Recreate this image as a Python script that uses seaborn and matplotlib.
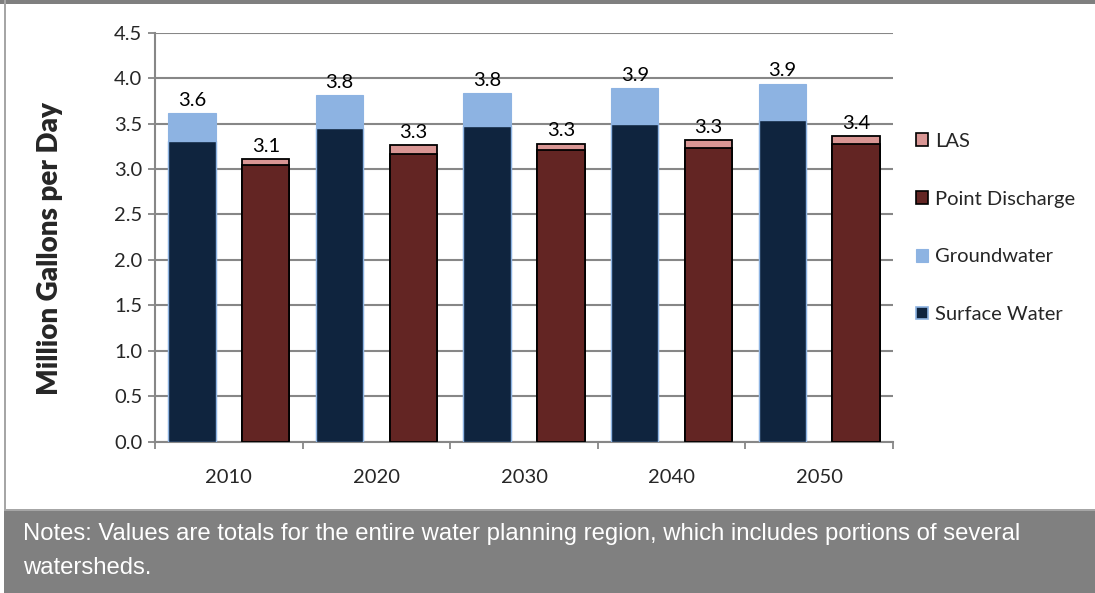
import matplotlib
matplotlib.use("Agg")
import matplotlib.pyplot as plt
from matplotlib.patches import Patch, Rectangle
import numpy as np
import pandas as pd
import seaborn as sns

# Regional water supply vs. discharge, million gallons per day
years = ["2010", "2020", "2030", "2040", "2050"]
surface_water = [3.31, 3.45, 3.47, 3.50, 3.54]
groundwater = [0.31, 0.36, 0.37, 0.39, 0.40]
point_discharge = [3.04, 3.17, 3.21, 3.23, 3.28]
las = [0.07, 0.09, 0.07, 0.09, 0.08]

supply_total = [s + g for s, g in zip(surface_water, groundwater)]
discharge_total = [p + l for p, l in zip(point_discharge, las)]

C_SW = "#0F243E"
C_GW = "#8DB3E2"
C_PD = "#632523"
C_LAS = "#D99694"
GRID = "#878787"
FS = 14.5

sns.set_theme(style="white")
plt.rcParams["font.family"] = ["Lato", "DejaVu Sans"]

tot = pd.DataFrame({
    "year": years * 2,
    "side": ["supply"] * 5 + ["discharge"] * 5,
    "value": supply_total + discharge_total,
})
base = pd.DataFrame({
    "year": years * 2,
    "side": ["supply"] * 5 + ["discharge"] * 5,
    "value": surface_water + point_discharge,
})

fig = plt.figure(figsize=(10.95, 5.93), dpi=100)
ax = fig.add_axes([155 / 1095, 1 - 441.7 / 593, (893 - 155) / 1095, (441.7 - 32.7) / 593])

order = ["supply", "discharge"]
# upper segments drawn as full-height bars, lower segments layered on top
sns.barplot(data=tot, x="year", y="value", hue="side", hue_order=order,
            palette=[C_GW, C_LAS], width=1.0, gap=0.36, dodge=True,
            errorbar=None, legend=False, ax=ax, zorder=2, saturation=1)
sns.barplot(data=base, x="year", y="value", hue="side", hue_order=order,
            palette=[C_SW, C_PD], width=1.0, gap=0.36, dodge=True,
            errorbar=None, legend=False, ax=ax, zorder=3, saturation=1)

conts = ax.containers
for bar in conts[0]:
    bar.set_edgecolor(C_GW); bar.set_linewidth(0.8)
for bar in conts[1]:
    bar.set_edgecolor("black"); bar.set_linewidth(1.3)
for bar in conts[2]:
    bar.set_edgecolor(C_GW); bar.set_linewidth(1.0)
for bar in conts[3]:
    bar.set_edgecolor("black"); bar.set_linewidth(1.3)

# total labels above each stacked column
for cont, totals in ((conts[0], supply_total), (conts[1], discharge_total)):
    ax.bar_label(cont, labels=[f"{v:.1f}" for v in totals], padding=3,
                 fontsize=FS, color="black")

ax.set_ylim(0, 4.5)
ax.set_xlim(-0.5, 4.5)
ax.set_yticks(np.arange(0, 4.51, 0.5))
ax.set_yticklabels([f"{v:.1f}" for v in np.arange(0, 4.51, 0.5)], fontsize=FS)
ax.yaxis.grid(True, color=GRID, linewidth=1.5, zorder=0)
ax.set_axisbelow(True)
ax.tick_params(axis="y", length=5, width=1.3, color=GRID, direction="out", pad=4, left=True)
ax.tick_params(axis="x", which="major", length=0, pad=20, labelsize=FS)
ax.set_xticks(np.arange(-0.5, 4.6, 1.0), minor=True)
ax.tick_params(axis="x", which="minor", length=5, width=1.3, color=GRID, direction="out", bottom=True)
ax.set_xlabel("")
ax.set_ylabel("")
for side in ("top", "right"):
    ax.spines[side].set_visible(False)
for side in ("left", "bottom"):
    ax.spines[side].set_color(GRID)
    ax.spines[side].set_linewidth(1.5)

fig.text(50 / 1095, 1 - 249 / 593, "Million Gallons per Day", rotation=90,
         ha="center", va="center", fontsize=20, fontweight="heavy")

handles = [
    Patch(facecolor=C_LAS, edgecolor="black", linewidth=1.2),
    Patch(facecolor=C_PD, edgecolor="black", linewidth=1.2),
    Patch(facecolor=C_GW, edgecolor=C_GW, linewidth=0.8),
    Patch(facecolor=C_SW, edgecolor=C_GW, linewidth=1.2),
]
labels = ["LAS", "Point Discharge", "Groundwater", "Surface Water"]
fig.legend(handles, labels, loc="center left", bbox_to_anchor=(916 / 1095, 1 - 228 / 593),
           frameon=False, fontsize=FS, labelspacing=2.02, handlelength=0.6,
           handleheight=0.6, handletextpad=0.35, borderpad=0, borderaxespad=0)

# frame and notes band
fig.patches.append(Rectangle((0, 1 - 4 / 593), 1, 4 / 593, transform=fig.transFigure,
                             facecolor="#7F7F7F", edgecolor="none", zorder=0))
fig.patches.append(Rectangle((4 / 1095, 0), 2 / 1095, 1, transform=fig.transFigure,
                             facecolor="#A6A6A6", edgecolor="none", zorder=0))
fig.patches.append(Rectangle((4 / 1095, 0), 1 - 4 / 1095, 82 / 593, transform=fig.transFigure,
                             facecolor="#808080", edgecolor="none", zorder=0))
fig.patches.append(Rectangle((4 / 1095, 82 / 593), 1 - 4 / 1095, 2 / 593, transform=fig.transFigure,
                             facecolor="#A6A6A6", edgecolor="none", zorder=0))
fig.text(23 / 1095, 1 - 523 / 593,
         "Notes: Values are totals for the entire water planning region, which includes portions of several\nwatersheds.",
         ha="left", va="top", fontsize=17.2, color="white",
         family=["Liberation Sans", "DejaVu Sans"], linespacing=1.7)

fig.savefig("out.png", dpi=100)
